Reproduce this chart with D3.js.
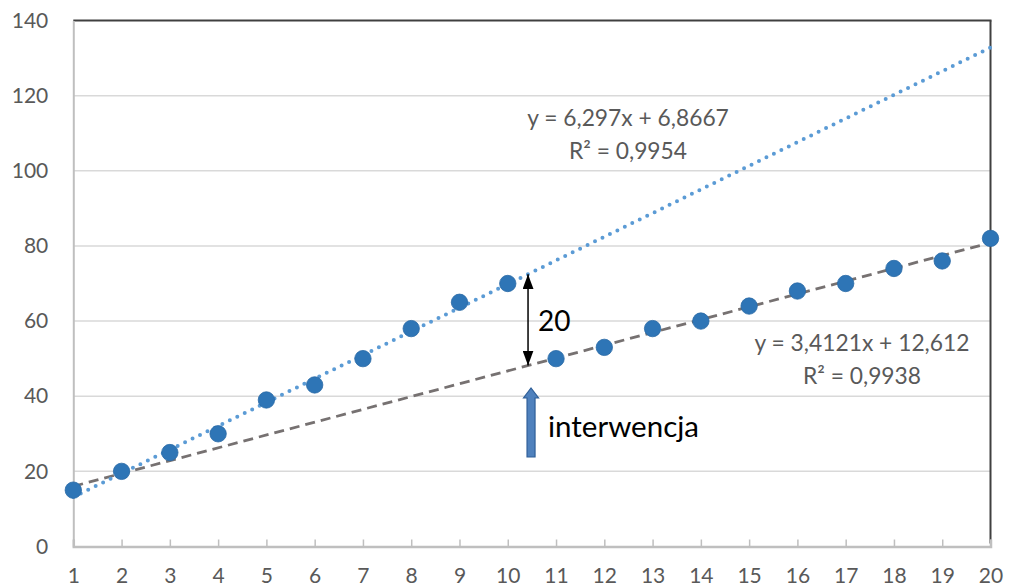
<!DOCTYPE html>
<html><head><meta charset="utf-8">
<script src="https://cdn.jsdelivr.net/npm/d3@7"></script>
<style>body{margin:0;background:#fff}svg{display:block}</style>
</head><body>
<svg id="c" width="1010" height="588"></svg>
<script>
const xBefore = [1,2,3,4,5,6,7,8,9,10];
const yBefore = [15,20,25,30,39,43,50,58,65,70];
const xAfter = [11,12,13,14,15,16,17,18,19,20];
const yAfter = [50,53,58,60,64,68,70,74,76,82];
const trendBefore = {slope:6.297, intercept:6.8667, label:"y = 6,297x + 6,8667", r2:"R² = 0,9954"};
const trendAfter = {slope:3.4121, intercept:12.612, label:"y = 3,4121x + 12,612", r2:"R² = 0,9938"};
const yTicks = [0,20,40,60,80,100,120,140];
const xTicks = d3.range(1,21);
const gapLabel = "20";
const interventionLabel = "interwencja";
const interventionX = 10.42;

const svg = d3.select("#c");
const font = "Lato, 'Open Sans', sans-serif";
const x = d3.scaleLinear().domain([1,20]).range([73.3,990.5]);
const y = d3.scaleLinear().domain([0,140]).range([546.5,20.5]);

// gridlines
svg.append("g").selectAll("line").data(yTicks.filter(d=>d>0&&d<140)).join("line")
  .attr("x1",x(1)).attr("x2",x(20)).attr("y1",d=>y(d)).attr("y2",d=>y(d))
  .attr("stroke","#d9d9d9").attr("stroke-width",1.5);

// frame top/right dark
svg.append("line").attr("x1",x(1)).attr("x2",x(20)+1).attr("y1",y(140)).attr("y2",y(140))
  .attr("stroke","#404040").attr("stroke-width",2);
svg.append("line").attr("x1",x(20)).attr("x2",x(20)).attr("y1",y(140)).attr("y2",y(0)-3)
  .attr("stroke","#404040").attr("stroke-width",2);

// axes
const yAxis = d3.axisLeft(y).tickValues(yTicks).tickSize(0).tickPadding(25);
const gy = svg.append("g").attr("transform",`translate(${x(1)},0)`).call(yAxis);
gy.select(".domain").attr("stroke","#bfbfbf").attr("stroke-width",2);
gy.selectAll("text").attr("font-family",font).attr("font-size",21).attr("fill","#595959");

const xAxis = d3.axisBottom(x).tickValues(xTicks).tickSize(-7).tickPadding(22);
const gx = svg.append("g").attr("transform",`translate(0,${y(0)})`).call(xAxis);
gx.select(".domain").attr("stroke","#bfbfbf").attr("stroke-width",2.5);
gx.selectAll(".tick line").attr("stroke","#bfbfbf").attr("stroke-width",1.5);
gx.selectAll("text").attr("font-family",font).attr("font-size",21).attr("fill","#595959");

// trendlines
const tl = t => [1,20].map(v=>[x(v), y(t.slope*v+t.intercept)]);
svg.append("path").attr("d",d3.line()(tl(trendAfter)))
  .attr("stroke","#767171").attr("stroke-width",2.8).attr("stroke-dasharray","10 6").attr("fill","none");
svg.append("path").attr("d",d3.line()(tl(trendBefore)))
  .attr("stroke","#5b9bd5").attr("stroke-width",4).attr("stroke-linecap","round")
  .attr("stroke-dasharray","0 8.3").attr("fill","none");

// points
const pts = xBefore.map((v,i)=>[v,yBefore[i]]).concat(xAfter.map((v,i)=>[v,yAfter[i]]));
svg.append("g").selectAll("circle").data(pts).join("circle")
  .attr("cx",d=>x(d[0])).attr("cy",d=>y(d[1])).attr("r",8.2)
  .attr("fill","#2e75b6").attr("stroke","#2a6aa6").attr("stroke-width",0.8);

// equations
function eq(t, cx, by){
  const g = svg.append("g").attr("font-family",font).attr("font-size",22.8).attr("fill","#595959").attr("text-anchor","middle");
  g.append("text").attr("x",cx).attr("y",by).text(t.label);
  g.append("text").attr("x",cx).attr("y",by+33).text(t.r2);
}
eq(trendBefore, 628, 126);
eq(trendAfter, 862, 351);

// double arrow
const defs = svg.append("defs");
defs.append("marker").attr("id","ah").attr("viewBox","0 0 10 10").attr("refX",10).attr("refY",5)
  .attr("markerWidth",15).attr("markerHeight",11).attr("markerUnits","userSpaceOnUse").attr("orient","auto-start-reverse")
  .attr("preserveAspectRatio","none")
  .append("path").attr("d","M0,0 L10,5 L0,10 Z").attr("fill","#000");
const ax = x(interventionX);
const yTop = y(trendBefore.slope*interventionX+trendBefore.intercept);
const yBot = y(trendAfter.slope*interventionX+trendAfter.intercept);
svg.append("line").attr("x1",ax).attr("x2",ax).attr("y1",yTop).attr("y2",yBot)
  .attr("stroke","#000").attr("stroke-width",1.5)
  .attr("marker-start","url(#ah)").attr("marker-end","url(#ah)");
svg.append("text").attr("x",ax+10).attr("y",(yTop+yBot)/2+11).attr("font-family",font)
  .attr("font-size",28).attr("fill","#000").text(gapLabel);

// intervention block arrow
const bx = x(interventionX)+3, tipY = 388, baseY = 457;
const bw = 4, hw = 7.5, hh = 10;
svg.append("path").attr("d",
  `M${bx},${tipY} L${bx+hw},${tipY+hh} L${bx+bw},${tipY+hh} L${bx+bw},${baseY} L${bx-bw},${baseY} L${bx-bw},${tipY+hh} L${bx-hw},${tipY+hh} Z`)
  .attr("fill","#4f81bd").attr("stroke","#2f5f98").attr("stroke-width",1.2);
svg.append("text").attr("x",548).attr("y",437).attr("font-family",font)
  .attr("font-size",29.5).attr("fill","#000").text(interventionLabel);
</script>
</body></html>
